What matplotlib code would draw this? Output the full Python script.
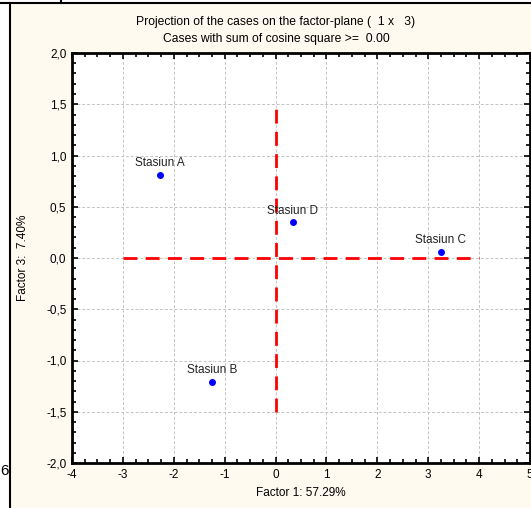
import matplotlib.pyplot as plt
from matplotlib.lines import Line2D
from matplotlib.ticker import MultipleLocator, FuncFormatter

plt.rcParams['font.family'] = ['Liberation Sans', 'DejaVu Sans']

# data
stations = ['Stasiun A', 'Stasiun B', 'Stasiun C', 'Stasiun D']
factor1 = [-2.27, -1.25, 3.25, 0.34]
factor3 = [0.81, -1.21, 0.06, 0.35]

# red reference cross
h_line_x = [-3, 4]
h_line_y = [0, 0]
v_line_x = [0, 0]
v_line_y = [-1.5, 1.5]

W, H = 531, 508
fig = plt.figure(figsize=(W / 100, H / 100), dpi=100)
fig.patch.set_facecolor('white')

# cream panel with black frame (cropped window)
panel = plt.Rectangle((10 / W, 0), 1 - 10 / W, 1 - 3 / H,
                      transform=fig.transFigure, facecolor='#fefaef',
                      edgecolor='none', zorder=-5)
fig.add_artist(panel)
fig.add_artist(Line2D([10 / W, 10 / W], [0, 1 - 3 / H], color='black', lw=1.5,
                      transform=fig.transFigure))
fig.add_artist(Line2D([0, 1], [1 - 3 / H, 1 - 3 / H], color='black', lw=1.5,
                      transform=fig.transFigure))
fig.add_artist(Line2D([61 / W, 61 / W], [1 - 3 / H, 1], color='black', lw=1.5,
                      transform=fig.transFigure))
fig.text(0, 1 - 471 / H, '6', fontsize=11, va='center', ha='left')

ax = fig.add_axes([72 / W, 1 - 463 / H, (530 - 72) / W, (463 - 53) / H])
ax.set_zorder(1)
ax.set_facecolor('white')

ax.plot(h_line_x, h_line_y, color='red', lw=2, dashes=(5, 3), zorder=3)
ax.plot(v_line_x, v_line_y, color='red', lw=2, dashes=(5, 3), zorder=3)

ax.plot(factor1, factor3, 'o', color='blue', markersize=4, mec='blue', zorder=4)
for name, x, y in zip(stations, factor1, factor3):
    ax.annotate(name, (x, y), xytext=(0, 4), textcoords='offset points',
                ha='center', va='bottom', fontsize=8.5, color='#222222', zorder=5)

ax.set_xlim(-4, 5)
ax.set_ylim(-2, 2)
ax.xaxis.set_major_locator(MultipleLocator(1))
ax.xaxis.set_minor_locator(MultipleLocator(0.25))
ax.yaxis.set_major_locator(MultipleLocator(0.5))
ax.yaxis.set_minor_locator(MultipleLocator(0.1))
ax.yaxis.set_major_formatter(FuncFormatter(lambda v, p: f'{v:.1f}'.replace('.', ',')))
ax.xaxis.set_major_formatter(FuncFormatter(lambda v, p: f'{int(round(v))}'))

ax.grid(True, which='major', color='#c4c4c4', linestyle=(0, (3, 2)), lw=0.7)
ax.tick_params(which='both', direction='in', top=True, right=True, labelsize=8.5,
               colors='black', width=1.2)
ax.tick_params(which='major', length=4, pad=4)
ax.tick_params(which='minor', length=3)
for s in ax.spines.values():
    s.set_linewidth(2)
    s.set_color('black')

ax.set_xlabel('Factor 1: 57.29%', fontsize=8.5, labelpad=5)
ax.set_ylabel('Factor 3:  7.40%', fontsize=8.5, labelpad=12)

fig.text(276 / W, 1 - 22 / H, 'Projection of the cases on the factor-plane (  1 x   3)',
         ha='center', va='center', fontsize=8.7)
fig.text(276 / W, 1 - 39 / H, 'Cases with sum of cosine square >=  0.00',
         ha='center', va='center', fontsize=8.7)

fig.savefig('out.png', dpi=100)
